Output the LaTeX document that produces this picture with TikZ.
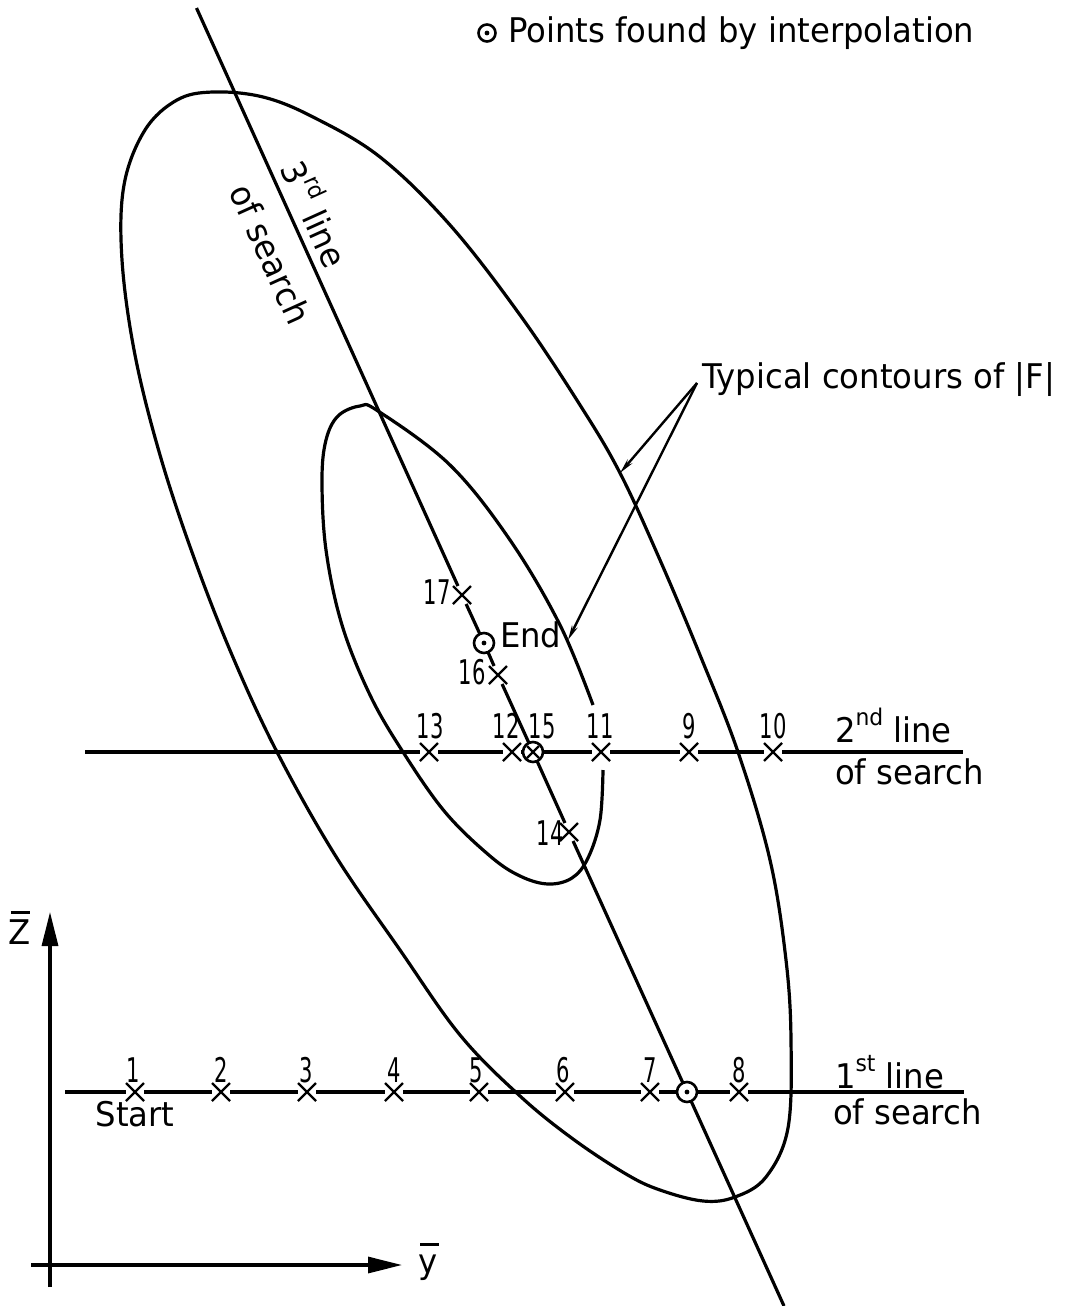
\documentclass[tikz,border=0pt]{standalone}
\usepackage{fontspec}
\setmainfont{DejaVu Sans}[FakeStretch=0.95]
\newfontfamily\numfont{DejaVu Sans}[FakeStretch=0.62]
\usetikzlibrary{arrows.meta,shapes.misc}
\newcommand\sups[1]{\raisebox{0.5em}{\fontsize{23}{24}\selectfont #1}}
\newcommand\barred[2]{\makebox[0pt][l]{\hspace{0.06em}\rule[#2]{0.55em}{2.4pt}}#1}
\begin{document}
\begin{tikzpicture}[x=1pt,y=-1pt,
  every node/.style={inner sep=0pt, outer sep=0pt},
  lbl/.style={font=\fontsize{34}{40}\selectfont},
  num/.style={font=\fontsize{34}{36}\selectfont\numfont},
  ln/.style={line width=3.2pt},
  lead/.style={line width=2.4pt},
  xm/.style={cross out, draw, line width=2.4pt, minimum size=13pt, outer sep=2.5pt},
  ipt/.style={circle, draw, line width=2.6pt, minimum size=20pt, outer sep=0.3pt,
    path picture={\fill (path picture bounding box.center) circle (2.4pt);}},
  ipx/.style={circle, draw, line width=2.6pt, minimum size=20pt, outer sep=0.3pt,
    path picture={\draw[line width=2.4pt] ([shift={(-6pt,-6pt)}]path picture bounding box.center) -- ([shift={(6pt,6pt)}]path picture bounding box.center);
                  \draw[line width=2.4pt] ([shift={(-6pt,6pt)}]path picture bounding box.center) -- ([shift={(6pt,-6pt)}]path picture bounding box.center);}},
  axarrow/.style={-{Triangle[length=34pt,width=16pt]}}
]
\useasboundingbox (0,0) rectangle (1072,1306);

% legend
\node[ipt, minimum size=17pt] (legc) at (487,33) {};
\node[lbl, anchor=west] (leg) at (508,33) {Points found by interpolation};

% contours
\draw[ln] plot[smooth cycle, tension=0.6] coordinates {
  (213,92) (263,97) (313,117) (380,157) (450,225) (520,315) (580,405) (620,473)
  (660,560) (700,655) (738,752) (770,860) (786,960) (791,1040) (788,1128)
  (766,1177) (735,1197) (703,1201) (660,1190) (626,1174) (573,1139) (520,1096)
  (460,1035) (400,950) (335,855) (277,752) (232,655) (193,555) (160,455)
  (135,355) (122,260) (124,185) (145,130) (177,100)};
\draw[ln] plot[smooth, tension=0.6] coordinates {
  (593,705) (560,625) (510,540) (450,465) (378,411) (360,406)
  (338,416) (326,440) (322,480) (326,550) (342,625) (370,695)
  (403,752) (445,812) (490,856) (520,876) (548,884) (572,878) (588,858)
  (600,820) (603,770)};

% 1st line of search
\coordinate (l1a) at (65,1092);
\coordinate (l1b) at (964,1092);
\node[xm] (p1) at (135,1092) {};
\node[xm] (p2) at (221,1092) {};
\node[xm] (p3) at (307,1092) {};
\node[xm] (p4) at (394,1092) {};
\node[xm] (p5) at (479,1092) {};
\node[xm] (p6) at (565,1092) {};
\node[xm] (p7) at (650,1092) {};
\node[ipt] (i1) at (687,1092) {};
\node[xm] (p8) at (739,1092) {};
\draw[ln] (l1a) -- (p1) -- (p2) -- (p3) -- (p4) -- (p5) -- (p6) -- (p7) -- (i1) -- (p8) -- (l1b);

\node[num] (n1) at (133,1070) {1};
\node[num] (n2) at (221,1070) {2};
\node[num] (n3) at (306,1070) {3};
\node[num] (n4) at (394,1070) {4};
\node[num] (n5) at (476,1070) {5};
\node[num] (n6) at (563,1070) {6};
\node[num] (n7) at (650,1070) {7};
\node[num] (n8) at (739,1070) {8};
\node[lbl] (start) at (135,1114) {Start};
\node[lbl, anchor=west] (l1t) at (835,1072) {1\sups{st} line};
\node[lbl, anchor=west] (l1s) at (833,1112) {of search};

% 2nd line of search
\coordinate (l2a) at (85,752);
\coordinate (l2b) at (963,752);
\node[xm] (p13) at (429,752) {};
\node[xm] (p12) at (512,752) {};
\node[ipx] (p15) at (533,752) {};
\node[xm] (p11) at (601,752) {};
\node[xm] (p9) at (689,752) {};
\node[xm] (p10) at (773,752) {};
\draw[ln] (l2a) -- (p13) -- (p12) -- (p15) -- (p11) -- (p9) -- (p10) -- (l2b);

\node[num] (n13) at (430,726) {13};
\node[num] (n12) at (506,726) {12};
\node[num] (n15) at (542,726) {15};
\node[num] (n11) at (600,726) {11};
\node[num] (n9) at (689,726) {9};
\node[num] (n10) at (773,726) {10};
\node[lbl, anchor=west] (l2t) at (835,725) {2\sups{nd} line};
\node[lbl, anchor=west] (l2s) at (835,772) {of search};

% 3rd line of search
\coordinate (l3a) at (196.5,8);
\coordinate (l3b) at (784,1306);
\node[xm] (p17) at (462,595) {};
\node[ipt] (end) at (484,643) {};
\node[xm] (p16) at (498,675) {};
\node[xm] (p14) at (569,832) {};
\draw[ln] (l3a) -- (p17) -- (end) -- (p16) -- (p15) -- (p14) -- (i1) -- (l3b);

\node[num] (n17) at (437,592) {17};
\node[num] (n16) at (472,672) {16};
\node[num] (n14) at (550,833) {14};
\node[lbl, anchor=west] (endl) at (500,635) {End};
\node[font=\fontsize{34}{56}\selectfont, align=left, rotate=-65.65] (l3) at (300,241) {3\sups{rd} line\\of search};

% contour label with leaders
\node[lbl, anchor=west] (typ) at (702,380) {Typical contours of |F|};
\coordinate (lead0) at (697,383);
\coordinate (oc) at (620,473);
\coordinate (ic) at (568,640);
\draw[lead, -{Stealth[length=15pt,width=6pt]}] (lead0) -- (oc);
\draw[lead, -{Stealth[length=15pt,width=6pt]}] (lead0) -- (ic);

% axes
\coordinate (zb) at (50,1287);
\coordinate (zt) at (50,912);
\coordinate (ya) at (31,1265);
\coordinate (yt) at (402,1265);
\draw[ln, axarrow] (zb) -- (zt);
\draw[ln, axarrow] (ya) -- (yt);
\node[lbl] (zlab) at (20,928) {\barred{Z}{0.92em}};
\node[lbl] (ylab) at (428,1262) {\barred{y}{0.82em}};
\end{tikzpicture}
\end{document}
